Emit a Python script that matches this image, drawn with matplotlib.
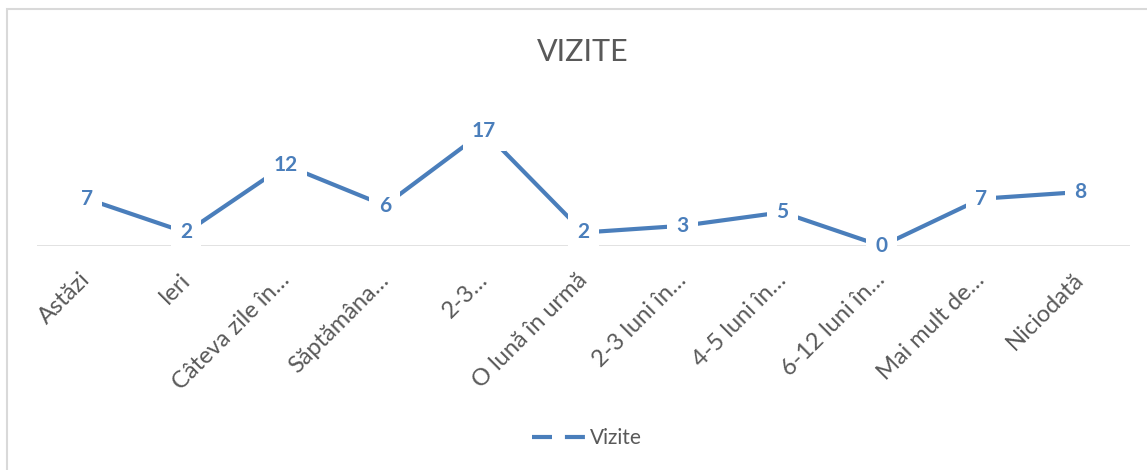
"""
Grafic linie VIZITE, stil Excel, cu etichete de date in casete albe.
"""
import matplotlib.pyplot as plt
import matplotlib.transforms as mtransforms
from matplotlib.lines import Line2D
from matplotlib.patches import Rectangle

CATEGORIES = ['Astăzi', 'Ieri', 'Câteva zile în…', 'Săptămâna…', '2-3…',
              'O lună în urmă', '2-3 luni în…', '4-5 luni în…', '6-12 luni în…',
              'Mai mult de…', 'Niciodată']
VIZITE = [7, 2, 12, 6, 17, 2, 3, 5, 0, 7, 8]

BLUE = '#4A7EBB'
GRAY_TXT = '#595959'

plt.rcParams['font.family'] = ['Lato', 'DejaVu Sans']

fig = plt.figure(figsize=(11.47, 4.70), dpi=100)
ax = fig.add_axes([37 / 1147, (470 - 246) / 470, 1093 / 1147, 135 / 470])

# chenarul zonei graficului
fig.patches.append(Rectangle((7 / 1147, -0.1), 1.2, (470 - 9) / 470 + 0.1,
                             transform=fig.transFigure, fill=False,
                             edgecolor='#D9D9D9', lw=1.5))

x = list(range(len(CATEGORIES)))
ax.axhline(0, color='#D9D9D9', lw=1.8, zorder=1)
ax.plot(x, VIZITE, color=BLUE, lw=3, solid_capstyle='butt', zorder=2)
for xi, v in zip(x, VIZITE):
    ax.text(xi, v, str(v), ha='center', va='center', fontsize=15,
            fontweight='bold', color=BLUE, zorder=3,
            bbox=dict(boxstyle='square,pad=0.45', fc='white', ec='none'))

ax.set_xlim(-0.5, len(CATEGORIES) - 0.5)
ax.set_ylim(0, 20)
ax.set_xticks(x)
ax.set_xticklabels(CATEGORIES, rotation=45, ha='right', rotation_mode='anchor',
                   fontsize=17, color=GRAY_TXT)
ax.tick_params(axis='x', length=0, pad=13)
# deplasare mica a etichetelor, ca in Excel
shift = mtransforms.ScaledTranslation(-7 / 100, -5 / 100, fig.dpi_scale_trans)
for lbl in ax.get_xticklabels():
    lbl.set_transform(lbl.get_transform() + shift)
ax.set_yticks([])
for s in ax.spines.values():
    s.set_visible(False)
ax.patch.set_alpha(0)

fig.text(583 / 1147, (470 - 52) / 470, 'VIZITE', ha='center', va='center',
         fontsize=22, color=GRAY_TXT)

handle = Line2D([], [], color=BLUE, lw=3, linestyle=(0, (4.8, 3.1)))
fig.legend([handle], ['Vizite'], loc='center', bbox_to_anchor=(587 / 1147, (470 - 438) / 470),
           frameon=False, fontsize=15, labelcolor=GRAY_TXT, handlelength=2.6,
           handletextpad=0.15)

fig.savefig('out.png', dpi=100, facecolor='white')
